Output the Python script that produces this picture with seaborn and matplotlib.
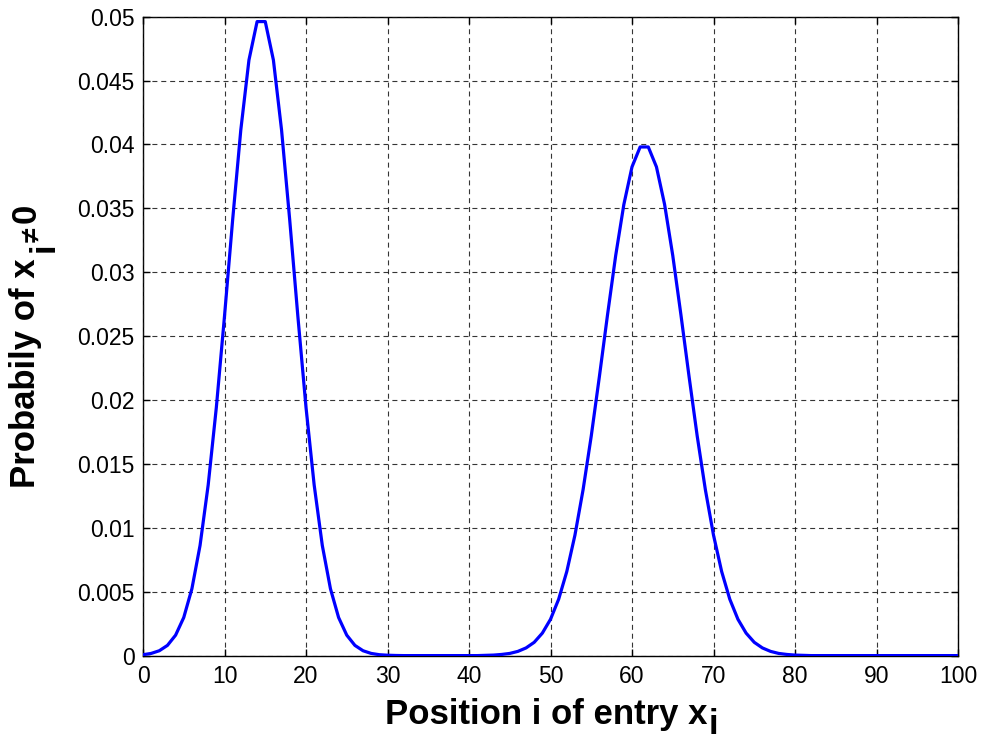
import numpy as np
import pandas as pd
import matplotlib
matplotlib.use("Agg")
import matplotlib.pyplot as plt
import seaborn as sns

# Entry positions 0..100 and the probability that each entry is non-zero
positions = list(range(101))
probability = [
    0.00007, 0.00017, 0.00038, 0.00080, 0.00160, 0.00298, 0.00523, 0.00862,
    0.01336, 0.01943, 0.02656, 0.03410, 0.04113, 0.04660, 0.04961, 0.04961,
    0.04660, 0.04113, 0.03410, 0.02656, 0.01943, 0.01336, 0.00862, 0.00523,
    0.00298, 0.00160, 0.00080, 0.00038, 0.00017, 0.00007, 0.00003, 0.00001,
    0.0, 0.0, 0.0, 0.0, 0.0, 0.0, 0.0, 0.0, 0.0, 0.0,
    0.00002, 0.00004, 0.00009, 0.00017, 0.00033, 0.00060, 0.00104, 0.00176,
    0.00284, 0.00441, 0.00658, 0.00943, 0.01299, 0.01718, 0.02184, 0.02668,
    0.03131, 0.03530, 0.03824, 0.03980, 0.03980, 0.03824, 0.03530, 0.03131,
    0.02668, 0.02184, 0.01718, 0.01299, 0.00943, 0.00658, 0.00441, 0.00284,
    0.00176, 0.00104, 0.00060, 0.00033, 0.00017, 0.00009, 0.00004, 0.00002,
    0.0, 0.0, 0.0, 0.0, 0.0, 0.0, 0.0, 0.0, 0.0, 0.0,
    0.0, 0.0, 0.0, 0.0, 0.0, 0.0, 0.0, 0.0, 0.0,
]
x_ticks = list(range(0, 101, 10))
y_ticks = [0, 0.005, 0.01, 0.015, 0.02, 0.025, 0.03, 0.035, 0.04, 0.045, 0.05]
y_tick_labels = ["0", "0.005", "0.01", "0.015", "0.02", "0.025", "0.03",
                 "0.035", "0.04", "0.045", "0.05"]

df = pd.DataFrame({"position": positions, "probability": probability})

sns.set_theme(style="white")
plt.rcParams["font.family"] = ["Liberation Sans", "DejaVu Sans"]
for key in ["text.color", "axes.labelcolor", "xtick.color", "ytick.color",
            "axes.edgecolor"]:
    plt.rcParams[key] = "black"

W, H = 981, 740
fig = plt.figure(figsize=(W / 100, H / 100), dpi=100)
ax = fig.add_axes([143 / W, 1 - 655.6 / H, 815 / W, 639 / H])

sns.lineplot(data=df, x="position", y="probability", ax=ax,
             color=(0, 0, 1), linewidth=2.3, zorder=3)

ax.set_xlim(0, 100)
ax.set_ylim(0, 0.05)
ax.set_xticks(x_ticks)
ax.set_xticklabels([str(t) for t in x_ticks])
ax.set_yticks(y_ticks)
ax.set_yticklabels(y_tick_labels)
ax.set_xlabel("")
ax.set_ylabel("")

ax.grid(True, color="#111111", linestyle=(0, (4.5, 3.5)), linewidth=0.8, alpha=0.85)
ax.set_axisbelow(False)

for side in ["left", "right", "top", "bottom"]:
    ax.spines[side].set_visible(True)
    ax.spines[side].set_color("black")
    ax.spines[side].set_linewidth(1.0)

ax.tick_params(axis="both", which="major", direction="in", length=5, width=1.0,
               colors="black", labelsize=16.5, top=True, right=True,
               bottom=True, left=True)
ax.tick_params(axis="x", pad=7)
ax.tick_params(axis="y", pad=6)


def px(x, y):
    """Pixel position (from top-left) to figure fraction."""
    return x / W, 1 - y / H


label_size = 25
fig.canvas.draw()
renderer = fig.canvas.get_renderer()

# x-axis label: "Position i of entry x" with a subscript i
xl_main = fig.text(0, 0, "Position i of entry x", fontsize=label_size,
                   fontweight="bold", ha="left", va="baseline")
xl_sub = fig.text(0, 0, "i", fontsize=label_size, fontweight="bold",
                  ha="left", va="baseline")
w_main = xl_main.get_window_extent(renderer).width
w_sub = xl_sub.get_window_extent(renderer).width
x_start = 552 - (w_main + w_sub + 1) / 2
baseline = 724
xl_main.set_position(px(x_start, baseline))
xl_sub.set_position(px(x_start + w_main + 1, baseline + 10))

# y-axis label: "Probabily of x" with subscript i, then "≠ 0"
rot = dict(rotation=90, rotation_mode="anchor", ha="left", va="baseline",
           fontweight="bold")
yl_main = fig.text(0, 0, "Probabily of x", fontsize=label_size, **rot)
yl_sub = fig.text(0, 0, "i", fontsize=label_size, **rot)
yl_neq = fig.text(0, 0, "≠", fontsize=19, **rot)
yl_zero = fig.text(0, 0, "0", fontsize=label_size, **rot)
h_main = yl_main.get_window_extent(renderer).height
h_sub = yl_sub.get_window_extent(renderer).height
h_neq = yl_neq.get_window_extent(renderer).height
y_base_x = 35.5
y_start = 488
yl_main.set_position(px(y_base_x, y_start))
y_cur = y_start - h_main - 6
yl_sub.set_position(px(y_base_x + 18, y_cur))
y_cur -= h_sub + 1
yl_neq.set_position(px(y_base_x + 4, y_cur))
y_cur -= h_neq + 4
yl_zero.set_position(px(y_base_x, y_cur))

fig.savefig("out.png", dpi=100, facecolor="white")
